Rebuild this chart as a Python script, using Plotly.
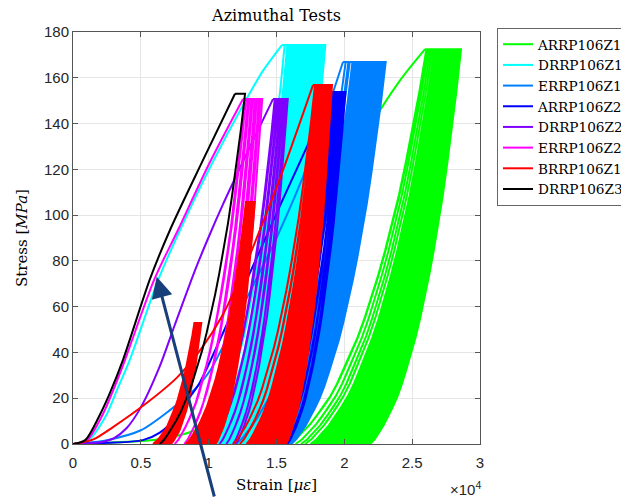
import numpy as np
import plotly.graph_objects as go

# normalized shape of a reload / unload branch (strain fraction -> stress fraction)
SHAPE_U = [0, .05, .1, .15, .2, .25, .3, .35, .4, .45, .5, .55, .6, .65, .7, .75, .8, .85, .9, .95, 1.0]
SHAPE_F = [0, .012, .03, .048, .07, .094, .12, .152, .19, .228, .27, .318, .37, .428, .49, .558,
           .63, .713, .80, .895, 1.0]

# ---- ARRP106Z (green)
GRN_LOAD_S = [0, 2200, 6200, 9000, 11000, 13000, 15000, 16500, 17830, 19800, 21740, 24000, 25950]
GRN_LOAD_Y = [0, 0.5, 2, 6, 14, 28, 47, 68, 89, 115, 137, 158, 172.5]
GRN_PEAK = 172.5
GRN_BASES = [15900, 16400, 16800, 17100, 17500, 17900, 18300, 18700, 19100, 19500, 19900,
             20300, 20700, 21100, 21500, 21800, 21900]
GRN_TOPS = [26050, 26200, 26350, 26500, 26700, 26900, 27100, 27300, 27500, 27700, 27900,
            28050, 28200, 28300, 28400, 28450]

# ---- DRRP106Z (cyan)
CYN_LOAD_S = [0, 1100, 2400, 3200, 4200, 6300, 7890, 10200, 12530, 14000, 15400]
CYN_LOAD_Y = [0, 1.5, 12, 23, 37, 72, 93.5, 122, 148, 163, 174.3]
CYN_PEAK = 174.3
CYN_BASES = [9600, 10000, 10400, 10800, 11200, 11500, 11800, 12100, 12400, 12700, 13000, 13100]
CYN_TOPS = [15600, 15800, 16000, 16300, 16600, 16900, 17200, 17500, 17800, 18100, 18400]

# ---- ERRP106Z (azure)
AZR_LOAD_S = [0, 2500, 5000, 7150, 9000, 10100, 11000, 13000, 15000, 17500, 19900]
AZR_LOAD_Y = [0, 1.7, 6, 14.8, 24, 32, 42, 66, 90, 125, 166.9]
AZR_PEAK = 166.9
AZR_BASES = [12000, 12800, 13500, 14000, 14400, 14800, 15100, 15400, 15700, 15900, 16100]
AZR_TOPS = [20100, 20400, 20700, 21000, 21300, 21600, 21900, 22200, 22500, 22850]

# ---- ARRP106Z (blue)
BLU_LOAD_S = [0, 2500, 5150, 6400, 7500, 8620, 9360, 12000, 15250, 19090]
BLU_LOAD_Y = [0, 0.5, 1.7, 5, 11, 20.5, 27, 61, 104, 153.8]
BLU_PEAK = 153.8
BLU_BASES = [13500, 14000, 14500, 15000, 15400, 15700, 15800]
BLU_TOPS = [19300, 19450, 19600, 19750, 19900, 20000]

# ---- DRRP106Z (violet)
VIO_LOAD_S = [0, 2000, 3000, 3960, 5000, 6400, 7500, 9000, 9970, 11077, 12900, 14740]
VIO_LOAD_Y = [0, 0.8, 2.5, 7, 16, 34, 52, 76, 90, 105, 128, 150.7]
VIO_PEAK = 150.7
VIO_BASES = [9600, 10200, 10800, 11300, 11800, 12000]
VIO_TOPS = [14950, 15150, 15350, 15550, 15700]

# ---- ERRP106Z (magenta)
MAG_LOAD_S = [0, 1000, 2200, 3000, 3850, 6000, 7740, 10000, 12530]
MAG_LOAD_Y = [0, 1.5, 13, 24, 37, 72, 93.5, 122, 150.7]
MAG_PEAK = 150.7
MAG_BASES = [7500, 8200, 8900, 9500, 10000, 10400]
MAG_TOPS = [12750, 13000, 13250, 13550, 13800]

# ---- BRRP106Z (red): main test + two lower load levels
RED_LOAD_S = [0, 1500, 2950, 5450, 7660, 9500, 11000, 12500, 13780, 15500, 17690]
RED_LOAD_Y = [0, 2, 7.4, 18, 29, 42, 56, 75, 93.5, 120, 156.8]
RED_PEAK = 156.8
RED_BASES = [11800, 12300, 12800, 13200, 13600, 14000, 14400, 14800, 15200, 15600, 15700]
RED_TOPS = [17850, 17950, 18050, 18150, 18250, 18400, 18550, 18700, 18850, 18940]
REDB_PEAK = 52.9
REDB_BASES = [5900, 6200, 6500, 6800, 7100, 7200]
REDB_TOPS = [8950, 9050, 9150, 9250, 9360]
REDC_PEAK = 105.7
REDC_BASES = [8300, 8700, 9100, 9500, 9900, 10300, 10500]
REDC_TOPS = [12750, 12850, 12950, 13050, 13150, 13300]

# ---- DRRP106Z (black)
BLK_LOAD_S = [0, 900, 2000, 2700, 3700, 5670, 7150, 9580, 11940]
BLK_LOAD_Y = [0, 1.7, 13, 22, 37, 72, 93.5, 124, 153]
BLK_PEAK = 153
BLK_BASES = [6400]
BLK_TOPS = []

NAMES = ["ARRP106Z1", "DRRP106Z1", "ERRP106Z1", "ARRP106Z2",
         "DRRP106Z2", "ERRP106Z2", "BRRP106Z1", "DRRP106Z3"]
COLORS = ["#00ff00", "#00ffff", "#0080ff", "#0000ff", "#8000ff", "#ff00ff", "#ff0000", "#000000"]

U = np.array(SHAPE_U)
F = np.array(SHAPE_F)


def branch(b, t, peak, up=True):
    s = b + U * (t - b)
    y = F * peak
    if up:
        return list(s), list(y)
    return list(s[::-1]), list(y[::-1])


def build_cycles(start_s, peak, hold, bases, tops):
    """Hold + unload/reload cycles, starting at the top (start_s, peak) or,
    if start_s is None, at the first base."""
    xs, ys = [], []
    if start_s is not None:
        xs += [start_s, start_s + hold]; ys += [peak, peak]
        cur = start_s
    else:
        xs.append(bases[0]); ys.append(0)
        cur = None
    for i in range(len(tops)):
        b = bases[i]
        if cur is not None:
            s, y = branch(b, cur + hold, peak, up=False)
            xs += s[1:]; ys += y[1:]
        s, y = branch(b, tops[i], peak, up=True)
        xs += s[1:]; ys += y[1:]
        cur = tops[i]
        xs.append(cur + hold); ys.append(peak)
    s, y = branch(bases[-1], cur + hold, peak, up=False)
    xs += s[1:]; ys += y[1:]
    return xs, ys


def band(peak, hold, bases, tops, k):
    s1, y1 = branch(bases[k], tops[k], peak, up=True)
    s2, y2 = branch(bases[-1], tops[-1] + hold, peak, up=False)
    return s1 + s2 + [bases[k]], y1 + y2 + [0]


fig = go.Figure()


def add_series(idx, load_s, load_y, peak, hold, bases, tops, dense_from=None, legend=True):
    color = COLORS[idx]
    if dense_from is not None:
        bx, by = band(peak, hold, bases, tops, dense_from)
        fig.add_trace(go.Scatter(x=bx, y=by, mode="lines", fill="toself", fillcolor=color,
                                 line=dict(width=0, color=color),
                                 showlegend=False, hoverinfo="skip"))
    if load_s is not None:
        fig.add_trace(go.Scatter(x=load_s, y=load_y, mode="lines",
                                 line=dict(color=color, width=2, shape="spline", smoothing=0.8),
                                 name=NAMES[idx], showlegend=legend))
        start = load_s[-1]
    else:
        start = None
    xs, ys = build_cycles(start, peak, hold, bases, tops)
    fig.add_trace(go.Scatter(x=xs, y=ys, mode="lines", line=dict(color=color, width=2),
                             name=NAMES[idx], showlegend=False))


add_series(0, GRN_LOAD_S, GRN_LOAD_Y, GRN_PEAK, 150, GRN_BASES, GRN_TOPS, dense_from=4)
add_series(1, CYN_LOAD_S, CYN_LOAD_Y, CYN_PEAK, 200, CYN_BASES, CYN_TOPS, dense_from=1)
add_series(2, AZR_LOAD_S, AZR_LOAD_Y, AZR_PEAK, 200, AZR_BASES, AZR_TOPS, dense_from=2)
add_series(3, BLU_LOAD_S, BLU_LOAD_Y, BLU_PEAK, 80, BLU_BASES, BLU_TOPS)
add_series(4, VIO_LOAD_S, VIO_LOAD_Y, VIO_PEAK, 130, VIO_BASES, VIO_TOPS)
add_series(5, MAG_LOAD_S, MAG_LOAD_Y, MAG_PEAK, 150, MAG_BASES, MAG_TOPS)
add_series(6, RED_LOAD_S, RED_LOAD_Y, RED_PEAK, 150, RED_BASES, RED_TOPS, dense_from=2)
add_series(6, None, None, REDB_PEAK, 100, REDB_BASES, REDB_TOPS, dense_from=0, legend=False)
add_series(6, None, None, REDC_PEAK, 100, REDC_BASES, REDC_TOPS, dense_from=0, legend=False)
add_series(7, BLK_LOAD_S, BLK_LOAD_Y, BLK_PEAK, 740, BLK_BASES, BLK_TOPS)

XTICKS = [0, 5000, 10000, 15000, 20000, 25000, 30000]
XTICKTEXT = ["0", "0.5", "1", "1.5", "2", "2.5", "3"]
YTICKS = [0, 20, 40, 60, 80, 100, 120, 140, 160, 180]

axis_common = dict(showline=True, mirror="ticks", linecolor="#555555", linewidth=1,
                   ticks="inside", ticklen=5, tickcolor="#555555", showgrid=True,
                   gridcolor="#e6e6e6", gridwidth=1, zeroline=False,
                   tickfont=dict(family="Liberation Sans", size=15, color="#262626"))

fig.update_xaxes(range=[0, 30000], tickvals=XTICKS, ticktext=XTICKTEXT,
                 ticklabelstandoff=5, **axis_common)
fig.update_yaxes(range=[0, 180], tickvals=YTICKS, **axis_common)

SERIF = "DejaVu Serif"

fig.update_layout(
    width=621, height=498,
    margin=dict(l=73, r=141, t=32, b=54, autoexpand=False),
    plot_bgcolor="white", paper_bgcolor="white",
    title=dict(text="Azimuthal Tests", x=0.5, xref="paper", xanchor="center",
               y=1 - 15 / 498, yref="container", yanchor="middle",
               font=dict(family=SERIF, size=16, color="black")),
    legend=dict(x=(497 - 73) / 407, y=1.01, xanchor="left", yanchor="top",
                font=dict(family=SERIF, size=13.6, color="black"),
                bordercolor="#666666", borderwidth=1, bgcolor="white",
                tracegroupgap=0, itemwidth=30),
    annotations=[
        dict(text="Stress [<i>MPa</i>]", xref="paper", yref="paper", x=(22 - 73) / 407, y=0.5,
             xanchor="center", yanchor="middle", textangle=-90, showarrow=False,
             font=dict(family=SERIF, size=15, color="black")),
        dict(text="Strain [<i>με</i>]", xref="paper", yref="paper", x=0.5, y=(444 - 485) / 412,
             xanchor="center", yanchor="middle", showarrow=False,
             font=dict(family=SERIF, size=15, color="black")),
        dict(text="×10<sup>4</sup>", xref="paper", yref="paper", x=(483 - 73) / 407,
             y=(444 - 488) / 412, xanchor="right", yanchor="middle", showarrow=False,
             font=dict(family="Liberation Sans", size=15, color="#262626")),
        dict(text="", x=6170, y=73.1, xref="x", yref="y", showarrow=True,
             ax=58, ay=262, arrowhead=2, arrowsize=1.4, arrowwidth=3,
             arrowcolor="#173f7a"),
    ],
)

fig.write_html("out.html")
